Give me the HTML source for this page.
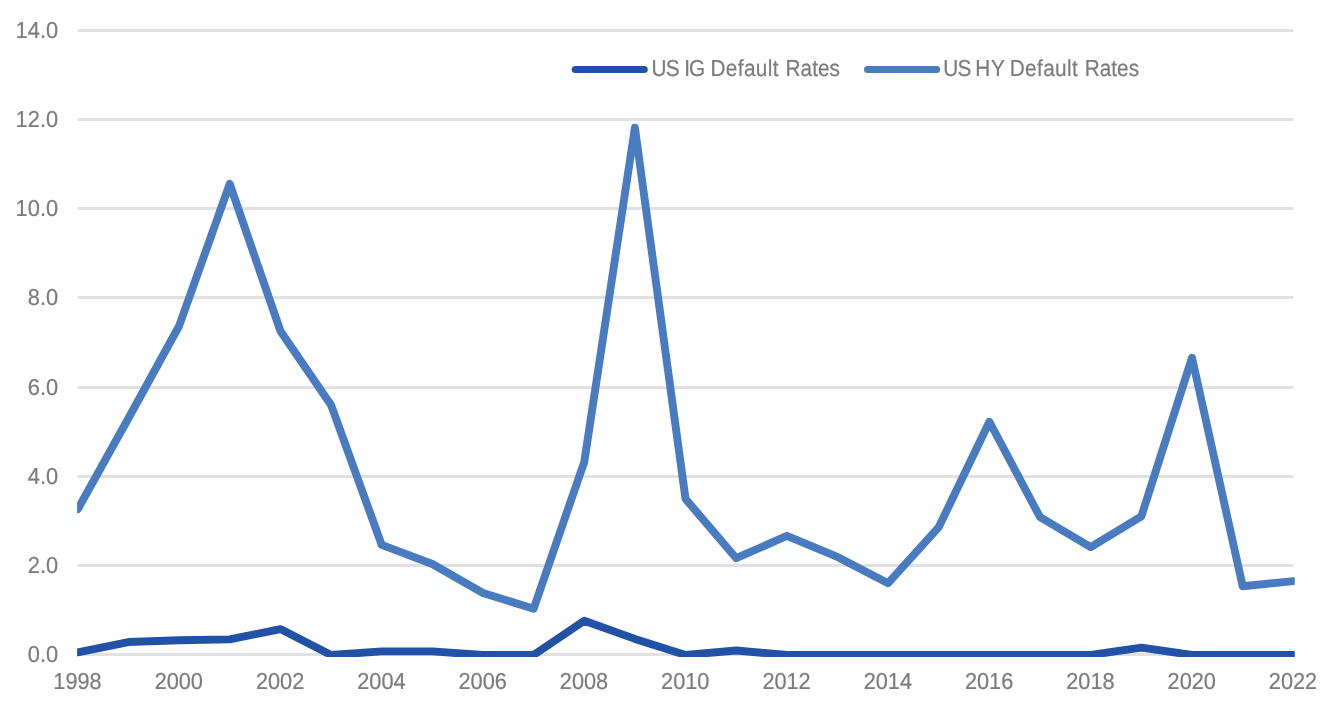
<!DOCTYPE html>
<html lang="en"><head><meta charset="utf-8"><title>US Default Rates</title>
<style>
html,body{margin:0;padding:0;background:#fff;}
body{width:1332px;height:723px;overflow:hidden;}
svg{display:block;}
svg text{font-family:"Liberation Sans",Arial,sans-serif;font-size:23.1px;fill:#7c7c7e;stroke:#7c7c7e;stroke-width:0.22px;text-rendering:geometricPrecision;}
</style></head><body>
<svg width="1332" height="723" viewBox="0 0 1332 723">
<rect width="1332" height="723" fill="#ffffff"/>
<g fill="#e1e1e1">
<rect x="77.6" y="653" width="1215.7" height="3"/>
<rect x="77.6" y="564" width="1215.7" height="3"/>
<rect x="77.6" y="475" width="1215.7" height="3"/>
<rect x="77.6" y="386" width="1215.7" height="3"/>
<rect x="77.6" y="296" width="1215.7" height="3"/>
<rect x="77.6" y="207" width="1215.7" height="3"/>
<rect x="77.6" y="118" width="1215.7" height="3"/>
<rect x="77.6" y="29" width="1215.7" height="3"/>
</g>
<g text-anchor="end">
<text transform="translate(58.1,661.95) scale(0.945,1)">0.0</text>
<text transform="translate(58.1,572.95) scale(0.945,1)">2.0</text>
<text transform="translate(58.1,483.95) scale(0.945,1)">4.0</text>
<text transform="translate(58.1,394.95) scale(0.945,1)">6.0</text>
<text transform="translate(58.1,304.95) scale(0.945,1)">8.0</text>
<text transform="translate(58.1,215.95) scale(0.945,1)">10.0</text>
<text transform="translate(58.1,126.95) scale(0.945,1)">12.0</text>
<text transform="translate(58.1,37.95) scale(0.945,1)">14.0</text>
</g>
<g text-anchor="middle">
<text transform="translate(77.50,689) scale(0.94,1)">1998</text>
<text transform="translate(178.79,689) scale(0.94,1)">2000</text>
<text transform="translate(280.08,689) scale(0.94,1)">2002</text>
<text transform="translate(381.38,689) scale(0.94,1)">2004</text>
<text transform="translate(482.67,689) scale(0.94,1)">2006</text>
<text transform="translate(583.96,689) scale(0.94,1)">2008</text>
<text transform="translate(685.25,689) scale(0.94,1)">2010</text>
<text transform="translate(786.54,689) scale(0.94,1)">2012</text>
<text transform="translate(887.83,689) scale(0.94,1)">2014</text>
<text transform="translate(989.12,689) scale(0.94,1)">2016</text>
<text transform="translate(1090.42,689) scale(0.94,1)">2018</text>
<text transform="translate(1191.71,689) scale(0.94,1)">2020</text>
<text transform="translate(1293.00,689) scale(0.94,1)">2022</text>
</g>
<defs><clipPath id="plot"><rect x="77.1" y="0" width="1217.7" height="657"/></clipPath></defs>
<g clip-path="url(#plot)"><g fill="none" stroke-width="7.9" stroke-linejoin="round" stroke-linecap="round">
<polyline points="77.80,509.20 128.45,418.27 179.09,326.01 229.74,183.87 280.38,330.91 331.03,404.90 381.68,544.85 432.32,564.02 482.97,592.99 533.61,608.68 584.26,461.95 634.90,127.75 685.55,498.95 736.20,558.23 786.84,535.94 837.49,556.89 888.13,583.19 938.78,527.03 989.42,421.75 1040.07,517.22 1090.72,547.08 1141.36,516.33 1192.01,357.74 1242.65,586.22 1293.30,581.18" stroke="#487bbf"/>
<polyline points="77.80,652.27 128.45,642.02 179.09,640.24 229.74,639.35 280.38,629.09 331.03,654.95 381.68,651.38 432.32,651.38 482.97,654.95 533.61,654.95 584.26,620.71 634.90,638.90 685.55,654.95 736.20,650.49 786.84,654.95 837.49,654.95 888.13,654.95 938.78,654.95 989.42,654.95 1040.07,654.95 1090.72,654.95 1141.36,647.59 1192.01,654.95 1242.65,654.95 1293.30,654.95" stroke="#2152a5"/>
</g></g>
<g stroke-width="7.2" stroke-linecap="round">
<line x1="575.30" y1="69.5" x2="644.20" y2="69.5" stroke="#2152a5"/>
<line x1="867.60" y1="69.5" x2="936.50" y2="69.5" stroke="#487bbf"/>
</g>
<text transform="translate(651.60,76) scale(0.899,1)"><tspan x="0.00" letter-spacing="-1.00">US </tspan><tspan x="36.26" letter-spacing="-1.00">IG </tspan><tspan x="65.52" letter-spacing="0.42">Default </tspan><tspan x="149.05">Rates</tspan></text>
<text transform="translate(943.30,76) scale(0.899,1)"><tspan x="0.00" letter-spacing="-1.00">US </tspan><tspan x="35.60" letter-spacing="0.67">HY </tspan><tspan x="73.86" letter-spacing="0.42">Default </tspan><tspan x="157.40">Rates</tspan></text>
</svg>
</body></html>
